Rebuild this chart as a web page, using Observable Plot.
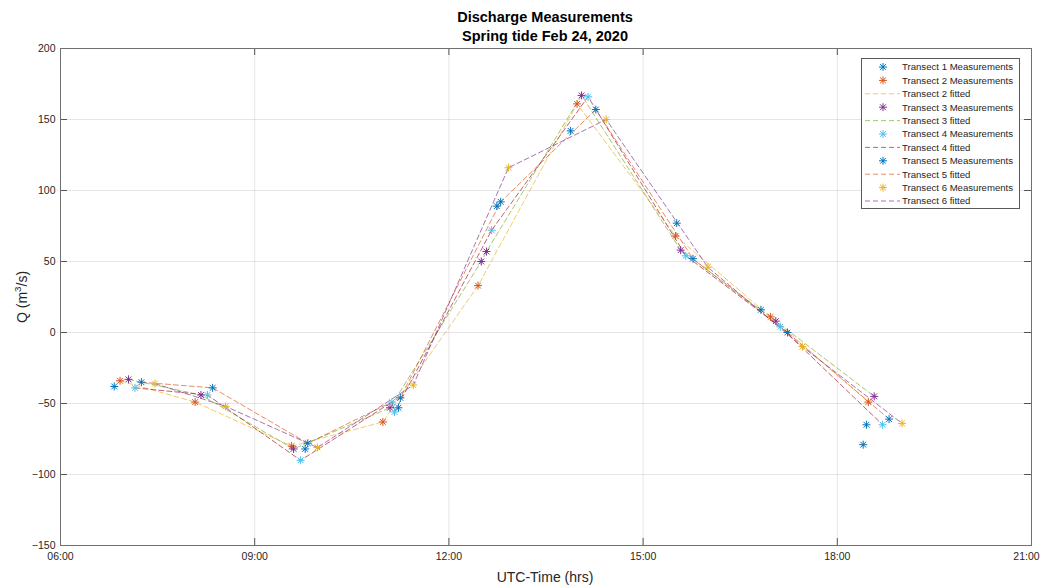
<!DOCTYPE html>
<html><head><meta charset="utf-8">
<script src="https://cdn.jsdelivr.net/npm/d3@7"></script>
<script src="https://cdn.jsdelivr.net/npm/@observablehq/plot@0.6"></script>
<style>
body{margin:0;background:#fff;font-family:"Liberation Sans",Arial,sans-serif;}
#wrap{position:relative;width:1042px;height:585px;overflow:hidden;}
#chart{position:absolute;left:0;top:0;}
#title{position:absolute;left:60px;width:970px;top:8px;text-align:center;font-weight:bold;font-size:14.5px;line-height:19px;color:#000;}
#xlab{position:absolute;left:60px;width:970px;top:569px;text-align:center;font-size:14px;line-height:16px;color:#262626;}
#ylab{position:absolute;left:21px;top:297px;transform:translate(-50%,-50%) rotate(-90deg);white-space:nowrap;font-size:14px;color:#262626;}
#ylab sup{font-size:70%;}
#legend{position:absolute;left:0;top:0;}
</style></head><body>
<div id="wrap">
  <div id="chart"></div>
  <div id="title"><div>Discharge Measurements</div><div>Spring tide Feb 24, 2020</div></div>
  <div id="xlab">UTC-Time (hrs)</div>
  <div id="ylab">Q (m<sup>3</sup>/s)</div>
  <svg id="legend" width="1042" height="585"></svg>
</div>
<script>
// ---- data (time in decimal hours UTC, Q in m^3/s) ----
const xTicks = [6, 9, 12, 15, 18, 21];
const yTicks = [-150, -100, -50, 0, 50, 100, 150, 200];
const transects = ["Transect 1", "Transect 2", "Transect 3", "Transect 4", "Transect 5", "Transect 6"];

const t1Time = [6.83, 9.78, 11.22, 12.74, 13.88, 15.52, 16.82, 18.40, 18.45];
const t1Q    = [-38, -82, -53, 89, 142, 77, 16, -79, -65];
const t2Time = [6.92, 8.08, 9.57, 10.98, 12.45, 13.98, 15.50, 16.97, 18.48];
const t2Q    = [-34, -49, -80, -63, 33, 161, 68, 11, -49];
const t3Time = [7.05, 8.17, 9.60, 11.09, 12.50, 12.58, 14.05, 15.58, 17.05, 18.57];
const t3Q    = [-33, -44, -82, -53, 50, 57, 167, 58, 8, -45];
const t4Time = [7.15, 8.27, 9.71, 11.12, 11.16, 12.66, 14.15, 15.66, 17.12, 18.70];
const t4Q    = [-39, -44, -90, -49, -56, 72, 166, 54, 4, -65];
const t5Time = [7.25, 8.35, 9.82, 11.25, 12.80, 14.27, 15.77, 17.23, 18.80];
const t5Q    = [-35, -39, -78, -46, 92, 157, 52, 0, -61];
const t6Time = [7.46, 8.55, 9.97, 11.45, 12.92, 14.43, 16.00, 17.46, 19.00];
const t6Q    = [-36, -52, -81, -37, 116, 150, 46, -10, -64];

const measColors = ["#0072BD", "#D95319", "#7E2F8E", "#4DBEEE", "#0072BD", "#EDB120"];
const fitColors  = [null, "#EDB120", "#77AC30", "#A2142F", "#D95319", "#7E2F8E"];
const legendLabels = ["Transect 1 Measurements", "Transect 2 Measurements", "Transect 2 fitted",
  "Transect 3 Measurements", "Transect 3 fitted", "Transect 4 Measurements", "Transect 4 fitted",
  "Transect 5 Measurements", "Transect 5 fitted", "Transect 6 Measurements", "Transect 6 fitted"];
const legendKinds = ["m0", "m1", "f1", "m2", "f2", "m3", "f3", "m4", "f4", "m5", "f5"];

// ---- build tables ----
const times = [t1Time, t2Time, t3Time, t4Time, t5Time, t6Time];
const qs = [t1Q, t2Q, t3Q, t4Q, t5Q, t6Q];
const meas = transects.flatMap((name, i) => times[i].map((t, j) => ({name, t, q: qs[i][j], color: measColors[i]})));
const fits = transects.flatMap((name, i) => fitColors[i] ? times[i].map((t, j) => ({name, t, q: qs[i][j], color: fitColors[i]})) : []);

const star = {
  draw(ctx, size) {
    const r = Math.sqrt(size / Math.PI), d = r * 0.72;
    ctx.moveTo(-r, 0); ctx.lineTo(r, 0);
    ctx.moveTo(0, -r); ctx.lineTo(0, r);
    ctx.moveTo(-d, -d); ctx.lineTo(d, d);
    ctx.moveTo(-d, d); ctx.lineTo(d, -d);
  }
};

const W = 1042, H = 585, mL = 60, mR = 11, mT = 48, mB = 40;
const xDom = [6, 21], yDom = [-150, 200];
const tickPx = 7;
const dxTick = tickPx * (xDom[1] - xDom[0]) / (W - mL - mR);
const dyTick = tickPx * (yDom[1] - yDom[0]) / (H - mT - mB);
const fmt = d => String(d).padStart(2, "0") + ":00";
const lastTick = xTicks[xTicks.length - 1];

const chart = Plot.plot({
  width: W, height: H, marginLeft: mL, marginRight: mR, marginTop: mT, marginBottom: mB,
  x: {domain: xDom}, y: {domain: yDom},
  color: {type: "identity"},
  style: {fontFamily: "'Liberation Sans', Arial, sans-serif", fontSize: "10.5px", color: "#262626", background: "#fff", overflow: "visible"},
  marks: [
    Plot.gridX(xTicks, {stroke: "#000", strokeOpacity: 0.1}),
    Plot.gridY(yTicks, {stroke: "#000", strokeOpacity: 0.1}),
    Plot.line(fits, {x: "t", y: "q", z: "name", stroke: "color", strokeWidth: 0.9, strokeOpacity: 0.75, strokeDasharray: "5,3"}),
    Plot.dot(meas, {x: "t", y: "q", stroke: "color", symbol: star, r: 4, strokeWidth: 1, fill: "none"}),
    Plot.ruleX(xTicks, {x: d => d, y1: yDom[0], y2: yDom[0] + dyTick, stroke: "#555"}),
    Plot.ruleX(xTicks, {x: d => d, y1: yDom[1], y2: yDom[1] - dyTick, stroke: "#555"}),
    Plot.ruleY(yTicks, {y: d => d, x1: xDom[0], x2: xDom[0] + dxTick, stroke: "#555"}),
    Plot.ruleY(yTicks, {y: d => d, x1: xDom[1], x2: xDom[1] - dxTick, stroke: "#555"}),
    Plot.frame({stroke: "#707070"}),
    Plot.axisX(xTicks.filter(d => d !== lastTick), {tickSize: 0, tickPadding: 7, tickFormat: fmt, label: null}),
    Plot.axisX([lastTick], {tickSize: 0, tickPadding: 7, tickFormat: fmt, label: null, dx: -5}),
    Plot.axisY(yTicks, {tickSize: 0, tickPadding: 5, label: null})
  ]
});
document.getElementById("chart").appendChild(chart);

// ---- legend ----
const lg = d3.select("#legend");
const lx = 861, ly = 58, lw = 158, lh = 150, rowH = 13.4, row0 = 67;
lg.append("rect").attr("x", lx + 0.5).attr("y", ly + 0.5).attr("width", lw).attr("height", lh)
  .attr("fill", "#fff").attr("stroke", "#5a5a5a").attr("stroke-width", 1);
legendLabels.forEach((lab, k) => {
  const y = row0 + k * rowH;
  const kind = legendKinds[k];
  const i = +kind.slice(1);
  if (kind[0] === "m") {
    const r = 4, d = r * 0.72, cx = 883, c = measColors[i];
    lg.append("path").attr("d", `M${cx - r},${y}H${cx + r}M${cx},${y - r}V${y + r}M${cx - d},${y - d}L${cx + d},${y + d}M${cx - d},${y + d}L${cx + d},${y - d}`)
      .attr("stroke", c).attr("fill", "none");
  } else {
    lg.append("line").attr("x1", 865).attr("x2", 900).attr("y1", y).attr("y2", y)
      .attr("stroke", fitColors[i]).attr("stroke-opacity", 0.75).attr("stroke-dasharray", "5,3").attr("stroke-width", 0.9);
  }
  lg.append("text").attr("x", 902).attr("y", y).attr("dy", "0.35em")
    .attr("font-size", 9.6).attr("fill", "#262626")
    .attr("font-family", "'Liberation Sans', Arial, sans-serif").text(lab);
});
</script>
</body></html>
